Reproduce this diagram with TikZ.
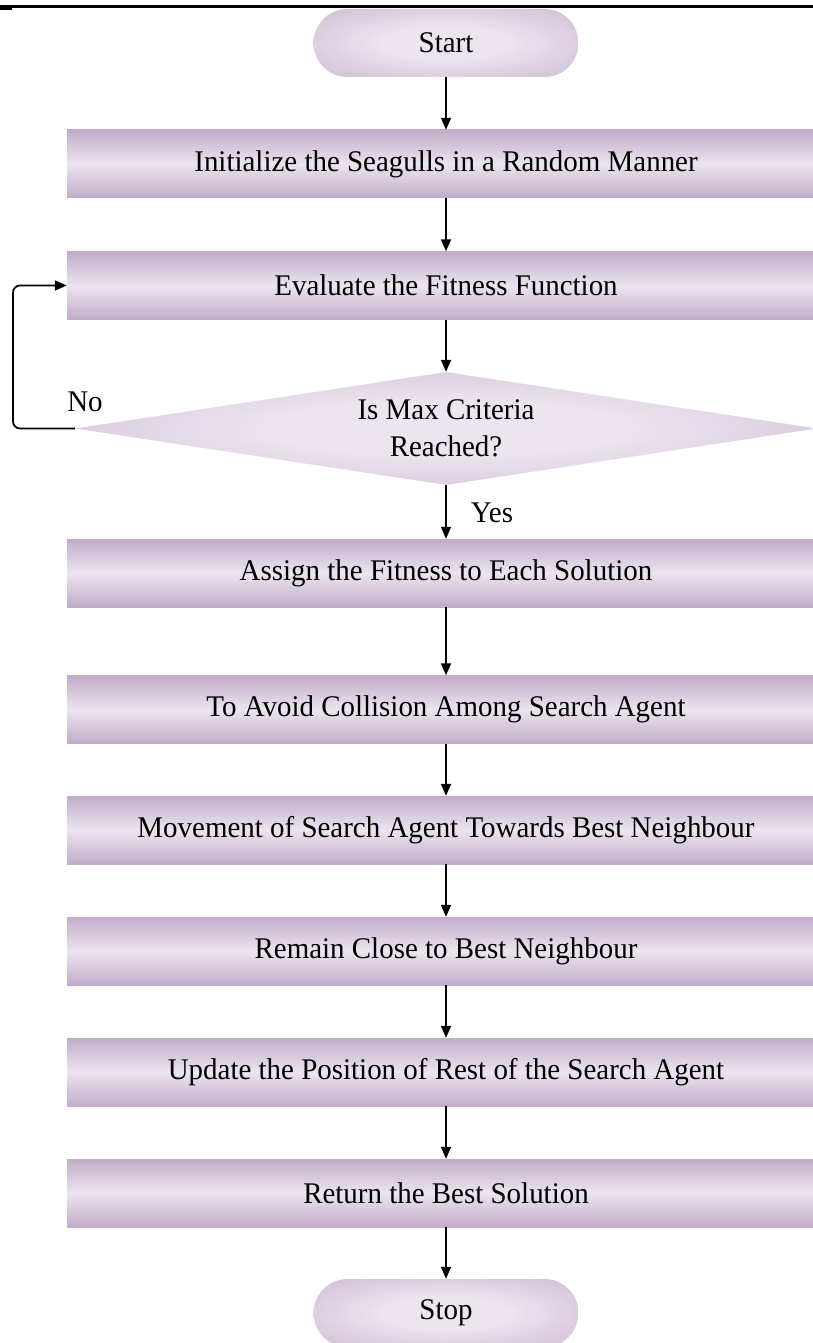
\documentclass[tikz,border=0pt]{standalone}
\usepackage{fontspec}
\setmainfont[FakeStretch=0.965]{Liberation Serif}
\usetikzlibrary{arrows.meta,shapes.geometric}
\definecolor{pout}{HTML}{C2ACC9}
\definecolor{pin}{HTML}{ECE4EF}
\pgfdeclareradialshading{glow}{\pgfpoint{0bp}{0bp}}{color(0bp)=(pin); color(12bp)=(pin); color(46bp)=(pout); color(50bp)=(pout)}
\begin{document}
\begin{tikzpicture}[x=1pt,y=-1pt,
  every node/.style={font=\fontsize{30}{37}\selectfont, text=black},
  procbox/.style={rectangle, minimum width=758pt, minimum height=68pt, inner sep=0pt,
    top color=pout, bottom color=pout, middle color=pin},
  termbox/.style={rectangle, rounded corners=34pt, minimum width=265pt, minimum height=68pt,
    inner sep=0pt, shading=glow},
  decbox/.style={diamond, aspect=6.566, minimum width=742pt, minimum height=113pt, inner sep=0pt,
    shading=glow, align=center},
  flow/.style={line width=1.7pt, -{Triangle[length=12pt,width=10pt]}},
  lbl/.style={inner sep=0pt},
]
\useasboundingbox (0,0) rectangle (813,1343);
\fill[white] (0,0) rectangle (813,1343);
\path[clip] (0,0) rectangle (813,1343);

% top rule
\coordinate (r1) at (0,7);
\coordinate (r2) at (813,7);
\draw[line width=3pt] (r1) -- (r2);
\fill (0,7) rectangle (12,10);

\node[termbox] (start) at (446,43) {Start};
\node[procbox] (init) at (446,164) {Initialize the Seagulls in a Random Manner};
\node[procbox] (eval) at (446,285.5) {Evaluate the Fitness Function};
\node[decbox] (dec) at (446,428.5) {Is Max Criteria\\Reached?};
\node[procbox] (assign) at (446,573) {Assign the Fitness to Each Solution};
\node[procbox] (avoid) at (446,709.5) {To Avoid Collision Among Search Agent};
\node[procbox] (move) at (446,830) {Movement of Search Agent Towards Best Neighbour};
\node[procbox] (remain) at (446,951) {Remain Close to Best Neighbour};
\node[procbox] (update) at (446,1072) {Update the Position of Rest of the Search Agent};
\node[procbox] (ret) at (446,1193) {Return the Best Solution};
\node[termbox] (stop) at (446,1313) {Stop};

\node[lbl] (no) at (85,402) {No};
\node[lbl] (yes) at (492,513) {Yes};

\draw[flow] (start) -- (init);
\draw[flow] (init) -- (eval);
\draw[flow] (eval) -- (dec);
\draw[flow] (dec) -- (assign);
\draw[flow] (assign) -- (avoid);
\draw[flow] (avoid) -- (move);
\draw[flow] (move) -- (remain);
\draw[flow] (remain) -- (update);
\draw[flow] (update) -- (ret);
\draw[flow] (ret) -- (stop);

\coordinate (lp1) at (13,428.5);
\coordinate (lp2) at (13,285.5);
\draw[flow, rounded corners=7pt] (dec.west) -- (lp1) -- (lp2) -- (eval.west);
\end{tikzpicture}
\end{document}
